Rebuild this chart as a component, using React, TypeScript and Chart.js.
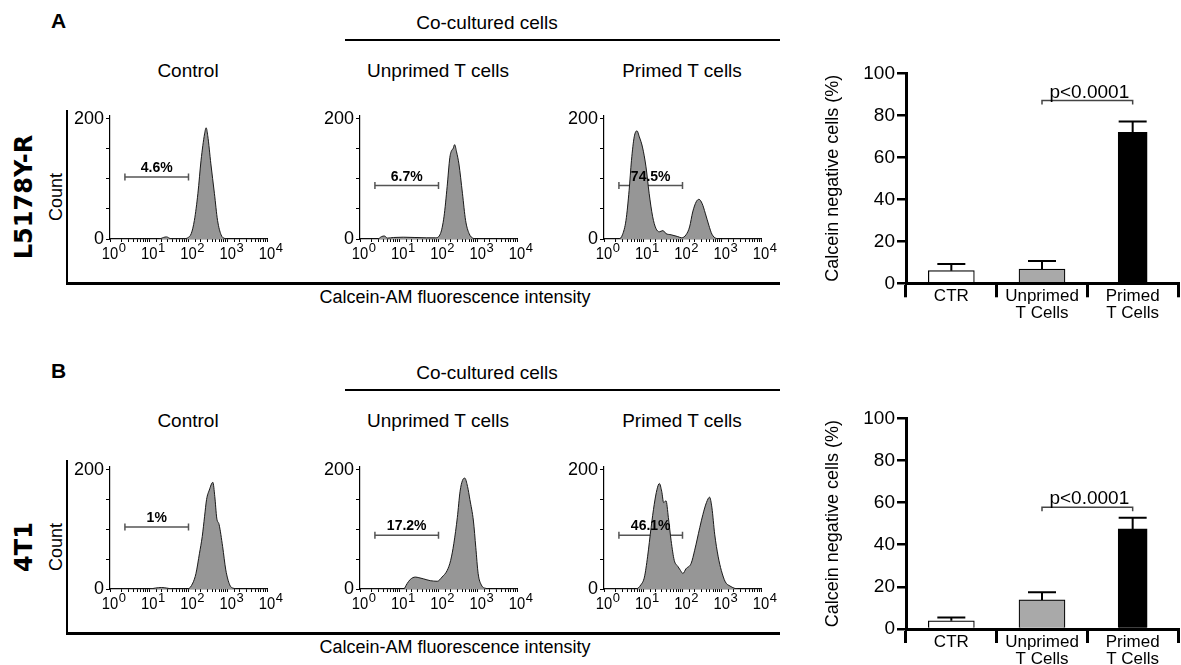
import React, { useEffect, useRef } from 'react';
import { Chart, registerables } from 'chart.js';

Chart.register(...registerables);

const FONT = "'Liberation Sans', Arial, Helvetica, sans-serif";

// ---------- Histogram data: [log10(Calcein-AM intensity), count] ----------
const histA_Control: [number, number][] = [
  [0, 0], [1.25, 0], [1.36, 2.5], [1.44, 3.5], [1.54, 0.8], [1.9, 0.5], [1.98, 2], [2.07, 9], [2.15, 31],
  [2.24, 76], [2.32, 131], [2.41, 175], [2.45, 185], [2.49, 172], [2.57, 125], [2.66, 76], [2.74, 31],
  [2.83, 7], [2.92, 1], [3.05, 0], [4, 0],
];
const histA_Unprimed: [number, number][] = [
  [0, 0], [0.45, 0], [0.55, 4], [0.62, 5], [0.7, 1.5], [0.85, 2.5], [1.1, 3], [1.4, 2.5], [1.7, 2],
  [1.92, 2], [2.05, 9], [2.14, 37], [2.22, 87], [2.29, 136], [2.34, 148], [2.37, 150], [2.41, 157],
  [2.46, 145], [2.52, 125], [2.61, 76], [2.69, 31], [2.78, 9], [2.89, 1], [3.0, 0], [4, 0],
];
const histA_Primed: [number, number][] = [
  [0, 0], [0.38, 0], [0.47, 7], [0.56, 31], [0.64, 81], [0.7, 131], [0.77, 170], [0.84, 180], [0.9, 170],
  [0.98, 153], [1.07, 120], [1.15, 76], [1.24, 37], [1.32, 18], [1.41, 12], [1.5, 14], [1.58, 9],
  [1.71, 7], [1.88, 4], [1.98, 2], [2.09, 7], [2.18, 20], [2.26, 45], [2.35, 62], [2.42, 66], [2.5, 59],
  [2.58, 43], [2.67, 23], [2.75, 8], [2.86, 1], [3.0, 0], [4, 0],
];
const histB_Control: [number, number][] = [
  [0, 0], [1.0, 0], [1.15, 1.5], [1.31, 2.5], [1.45, 1.5], [1.6, 0], [1.98, 0], [2.11, 10], [2.19, 26],
  [2.28, 60], [2.35, 88], [2.41, 122], [2.46, 150], [2.53, 166], [2.62, 179], [2.67, 155], [2.72, 119],
  [2.78, 108], [2.87, 71], [2.95, 32], [3.05, 7], [3.16, 1], [3.3, 0], [4, 0],
];
const histB_Unprimed: [number, number][] = [
  [0, 0], [1.11, 0], [1.2, 9], [1.28, 16], [1.41, 20], [1.5, 19], [1.62, 17], [1.79, 14], [1.97, 13],
  [2.09, 20], [2.22, 31], [2.31, 48], [2.39, 76], [2.48, 120], [2.55, 164], [2.61, 182], [2.67, 186],
  [2.74, 172], [2.8, 150], [2.89, 114], [2.95, 70], [3.01, 26], [3.09, 7], [3.21, 1], [3.35, 0], [4, 0],
];
const histB_Primed: [number, number][] = [
  [0, 0], [0.81, 0], [0.94, 7], [1.03, 20], [1.11, 54], [1.2, 103], [1.28, 142], [1.35, 167], [1.41, 177],
  [1.47, 164], [1.52, 145], [1.58, 148], [1.64, 120], [1.71, 81], [1.79, 48], [1.88, 38], [1.95, 31],
  [2.01, 26], [2.09, 34], [2.22, 43], [2.31, 65], [2.44, 103], [2.52, 125], [2.61, 145], [2.69, 154],
  [2.75, 136], [2.82, 92], [2.91, 54], [2.99, 31], [3.09, 12], [3.21, 5], [3.42, 0], [4, 0],
];

const rowA_Hists = [histA_Control, histA_Unprimed, histA_Primed];
const rowB_Hists = [histB_Control, histB_Unprimed, histB_Primed];
const rowA_GateLevels = [103, 89, 89];
const rowB_GateLevels = [104, 90, 90];
const rowA_GateLabels = ['4.6%', '6.7%', '74.5%'];
const rowB_GateLabels = ['1%', '17.2%', '46.1%'];
const gateRangeExp = [0.38, 2.0];
const decadeExponents = [0, 1, 2, 3, 4];
const histYTickLabels = [0, 200];
const panelTitles = ['Control', 'Unprimed T cells', 'Primed T cells'];

// ---------- Bar chart data ----------
const barCategories: (string | string[])[] = ['CTR', ['Unprimed', 'T Cells'], ['Primed', 'T Cells']];
const rowA_BarMeans = [6.0, 6.8, 71.9];
const rowA_BarErrors = [3.2, 3.8, 5.1];
const rowB_BarMeans = [3.9, 13.8, 47.5];
const rowB_BarErrors = [1.5, 3.6, 5.3];
const rowA_Bracket = 87;
const rowB_Bracket = 57.8;
const pValueLabel = 'p<0.0001';
const barColors = ['#ffffff', '#a9a9a9', '#000000'];
const barYTicks = [0, 20, 40, 60, 80, 100];

// ---------- Histogram chart ----------
type HistProps = {
  data: [number, number][];
  gate: number;
  gateLabel: string;
  x0: number;
  y0: number;
  yTop: number;
};

function Histogram({ data, gate, gateLabel, x0, y0, yTop }: HistProps) {
  const ref = useRef<HTMLCanvasElement>(null);
  const axisW = 48;
  const padTop = 12;
  const padRight = 22;
  const axisH = 32;
  const plotW = 157;
  const width = axisW + plotW + padRight;
  const height = padTop + (y0 - yTop) + axisH;
  const left = x0 - axisW;
  const top = yTop - padTop;

  useEffect(() => {
    const canvas = ref.current!;
    const labelPlugin = {
      id: 'histLabels',
      afterDraw(chart: any) {
        const { ctx, chartArea } = chart;
        const xs = chart.scales.x;
        const ys = chart.scales.y;
        ctx.save();
        ctx.fillStyle = '#000';
        for (const k of decadeExponents) {
          const px = xs.getPixelForValue(Math.pow(10, k));
          ctx.font = `17px ${FONT}`;
          const w = ctx.measureText('10').width * 0.87;
          ctx.save();
          ctx.translate(px, chartArea.bottom + 20);
          ctx.scale(0.87, 1);
          ctx.textAlign = 'center';
          ctx.textBaseline = 'alphabetic';
          ctx.fillText('10', 0, 0);
          ctx.restore();
          ctx.font = `13px ${FONT}`;
          ctx.textAlign = 'left';
          ctx.textBaseline = 'alphabetic';
          ctx.fillText(String(k), px + w / 2 + 0.5, chartArea.bottom + 13);
        }
        const gx = xs.getPixelForValue(Math.pow(10, (gateRangeExp[0] + gateRangeExp[1]) / 2));
        const gy = ys.getPixelForValue(gate);
        ctx.font = `bold 14px ${FONT}`;
        ctx.textAlign = 'center';
        ctx.textBaseline = 'alphabetic';
        ctx.fillText(gateLabel, gx, gy - 5);
        ctx.restore();
      },
    };
    const chart = new Chart(canvas, {
      type: 'line',
      data: {
        datasets: [
          {
            data: data.map(([e, c]) => ({ x: Math.pow(10, e), y: c })),
            fill: 'origin',
            backgroundColor: '#969696',
            borderColor: '#1a1a1a',
            borderWidth: 1,
            pointRadius: 0,
            cubicInterpolationMode: 'monotone',
          } as any,
          {
            data: gateRangeExp.map((e) => ({ x: Math.pow(10, e), y: gate })),
            fill: false,
            borderColor: '#555',
            borderWidth: 1.5,
            pointStyle: 'line',
            rotation: 90,
            pointRadius: 3.5,
            pointBorderColor: '#555',
            pointBorderWidth: 1.5,
          } as any,
        ],
      },
      options: {
        responsive: false,
        animation: false,
        events: [],
        layout: { padding: { top: padTop, right: padRight, left: 0, bottom: 0 } },
        plugins: { legend: { display: false }, tooltip: { enabled: false } },
        scales: {
          x: {
            type: 'logarithmic',
            min: 1,
            max: 10000,
            border: { display: true, color: '#000', width: 1.2 },
            grid: { display: true, drawOnChartArea: false, drawTicks: true, tickLength: 3, color: '#000', lineWidth: 1 },
            ticks: { autoSkip: false, maxRotation: 0, callback: () => '' },
            afterFit: (s: any) => {
              s.height = axisH;
            },
          },
          y: {
            min: 0,
            max: 205,
            border: { display: true, color: '#000', width: 1.2 },
            grid: { display: true, drawOnChartArea: false, drawTicks: true, tickLength: 4, color: '#000', lineWidth: 1 },
            ticks: {
              stepSize: 50,
              includeBounds: false,
              autoSkip: false,
              padding: 2,
              color: '#000',
              font: { size: 18, family: FONT },
              callback: (v: any) => (histYTickLabels.includes(Number(v)) ? String(v) : ''),
            },
            afterFit: (s: any) => {
              s.width = axisW;
            },
          },
        } as any,
      },
      plugins: [labelPlugin],
    });
    return () => chart.destroy();
  }, []);

  return (
    <canvas
      ref={ref}
      width={width}
      height={height}
      style={{ position: 'absolute', left, top, width, height }}
    />
  );
}

// ---------- Bar chart ----------
type BarProps = {
  means: number[];
  errors: number[];
  bracket: number;
  top: number;
  height: number;
  padTop: number;
  axisH: number;
};

function BarPanel({ means, errors, bracket, top, height, padTop, axisH }: BarProps) {
  const ref = useRef<HTMLCanvasElement>(null);
  const left = 790;
  const width = 391;
  useEffect(() => {
    const canvas = ref.current!;
    const errPlugin = {
      id: 'errBars',
      afterDatasetsDraw(chart: any) {
        const { ctx } = chart;
        const xs = chart.scales.x;
        const ys = chart.scales.y;
        ctx.save();
        ctx.strokeStyle = '#000';
        ctx.lineWidth = 2;
        means.forEach((m, i) => {
          const px = xs.getPixelForValue(i);
          const y1 = ys.getPixelForValue(m);
          const y2 = ys.getPixelForValue(m + errors[i]);
          ctx.beginPath();
          ctx.moveTo(px, y1);
          ctx.lineTo(px, y2);
          ctx.moveTo(px - 14, y2);
          ctx.lineTo(px + 14, y2);
          ctx.stroke();
        });
        const bx1 = xs.getPixelForValue(1);
        const bx2 = xs.getPixelForValue(2);
        const by = ys.getPixelForValue(bracket);
        ctx.strokeStyle = '#444';
        ctx.lineWidth = 1.5;
        ctx.beginPath();
        ctx.moveTo(bx1, by + 4);
        ctx.lineTo(bx1, by);
        ctx.lineTo(bx2, by);
        ctx.lineTo(bx2, by + 4);
        ctx.stroke();
        ctx.fillStyle = '#000';
        ctx.font = `19px ${FONT}`;
        ctx.textAlign = 'center';
        ctx.textBaseline = 'alphabetic';
        ctx.fillText(pValueLabel, (bx1 + bx2) / 2 + 2, by - 3);
        ctx.restore();
      },
    };
    const chart = new Chart(canvas, {
      type: 'bar',
      data: {
        labels: barCategories as any,
        datasets: [
          {
            data: [means[0], means[1], null],
            backgroundColor: barColors,
            borderColor: '#000',
            borderWidth: 1.2,
            barThickness: 46,
            grouped: false,
          } as any,
          {
            data: [null, null, means[2]],
            backgroundColor: barColors,
            borderColor: '#000',
            borderWidth: 1,
            barThickness: 29,
            grouped: false,
          } as any,
        ],
      },
      options: {
        responsive: false,
        animation: false,
        events: [],
        layout: { padding: { top: padTop, right: 3, left: 28, bottom: 0 } },
        plugins: { legend: { display: false }, tooltip: { enabled: false } },
        scales: {
          x: {
            type: 'category',
            offset: true,
            border: { display: true, color: '#000', width: 3 },
            grid: { display: true, offset: true, drawOnChartArea: false, drawTicks: true, tickLength: 14, color: '#000', lineWidth: 3 },
            ticks: {
              autoSkip: false,
              maxRotation: 0,
              padding: -9.5,
              color: '#000',
              font: { size: 17, family: FONT, lineHeight: 1 },
            },
            afterFit: (s: any) => {
              s.height = axisH;
            },
          },
          y: {
            min: 0,
            max: 100,
            border: { display: true, color: '#000', width: 3 },
            grid: { display: true, drawOnChartArea: false, drawTicks: true, tickLength: 9, color: '#000', lineWidth: 2.5 },
            afterBuildTicks: (s: any) => {
              s.ticks = barYTicks.map((v) => ({ value: v }));
            },
            ticks: {
              padding: 2,
              color: '#000',
              font: { size: 19, family: FONT },
            },
            title: {
              display: true,
              text: 'Calcein negative cells (%)',
              color: '#000',
              font: { size: 18, family: FONT },
              padding: { top: 4, bottom: 4 },
            },
            afterFit: (s: any) => {
              s.width = 88;
            },
          },
        } as any,
      },
      plugins: [errPlugin],
    });
    return () => chart.destroy();
  }, []);
  return (
    <canvas
      ref={ref}
      width={width}
      height={height}
      style={{ position: 'absolute', left, top, width, height }}
    />
  );
}

// ---------- Text & lines ----------
type LabelProps = { text: string; x: number; y: number; size: number; bold?: boolean; rotate?: boolean; family?: string };
const Label = ({ text, x, y, size, bold, rotate, family }: LabelProps) => (
  <div
    style={{
      position: 'absolute',
      left: x,
      top: y,
      transform: `translate(-50%, -50%)${rotate ? ' rotate(-90deg)' : ''}`,
      fontSize: size,
      fontWeight: bold ? 'bold' : 'normal',
      fontFamily: family || FONT,
      lineHeight: 1,
      whiteSpace: 'nowrap',
      color: '#000',
    }}
  >
    {text}
  </div>
);

const Line = ({ x, y, w, h }: { x: number; y: number; w: number; h: number }) => (
  <div style={{ position: 'absolute', left: x, top: y, width: w, height: h, background: '#000' }} />
);

const HIST_X0 = [110, 360, 604];
const TITLE_X = [188, 438, 682];

function Row({ dy, letter, cellLine, hists, gates, gateLabels, y0, yTop }: any) {
  return (
    <>
      <Label text={letter} x={58.5} y={20 + dy} size={21} bold />
      <Label text="Co-cultured cells" x={487} y={22 + dy} size={19} />
      <Line x={345} y={38.5 + dy} w={435} h={2} />
      {panelTitles.map((t, i) => (
        <Label key={t} text={t} x={TITLE_X[i]} y={69.5 + dy} size={19} />
      ))}
      <Label text={cellLine} x={24} y={197 + dy} size={24} bold rotate family="'DejaVu Sans', Verdana, sans-serif" />
      <Label text="Count" x={55.5} y={197 + dy} size={18} rotate />
      <Line x={66} y={110 + dy} w={2} h={174} />
      <Line x={66} y={282 + dy} w={714} h={2.5} />
      <Label text="Calcein-AM fluorescence intensity" x={455} y={297 + dy} size={18} />
      {hists.map((h: [number, number][], i: number) => (
        <Histogram key={i} data={h} gate={gates[i]} gateLabel={gateLabels[i]} x0={HIST_X0[i]} y0={y0} yTop={yTop} />
      ))}
    </>
  );
}

export default function App() {
  return (
    <div
      style={{
        position: 'absolute',
        left: 0,
        top: 0,
        width: 1181,
        height: 665,
        overflow: 'hidden',
        background: '#fff',
        fontFamily: FONT,
      }}
    >
      <Row dy={0} letter="A" cellLine="L5178Y-R" hists={rowA_Hists} gates={rowA_GateLevels} gateLabels={rowA_GateLabels} y0={239} yTop={115} />
      <Row dy={350} letter="B" cellLine="4T1" hists={rowB_Hists} gates={rowB_GateLevels} gateLabels={rowB_GateLabels} y0={589} yTop={466} />
      <BarPanel means={rowA_BarMeans} errors={rowA_BarErrors} bracket={rowA_Bracket} top={50} height={280} padTop={23.3} axisH={46.7} />
      <BarPanel means={rowB_BarMeans} errors={rowB_BarErrors} bracket={rowB_Bracket} top={400} height={265} padTop={18.3} axisH={36} />
    </div>
  );
}
